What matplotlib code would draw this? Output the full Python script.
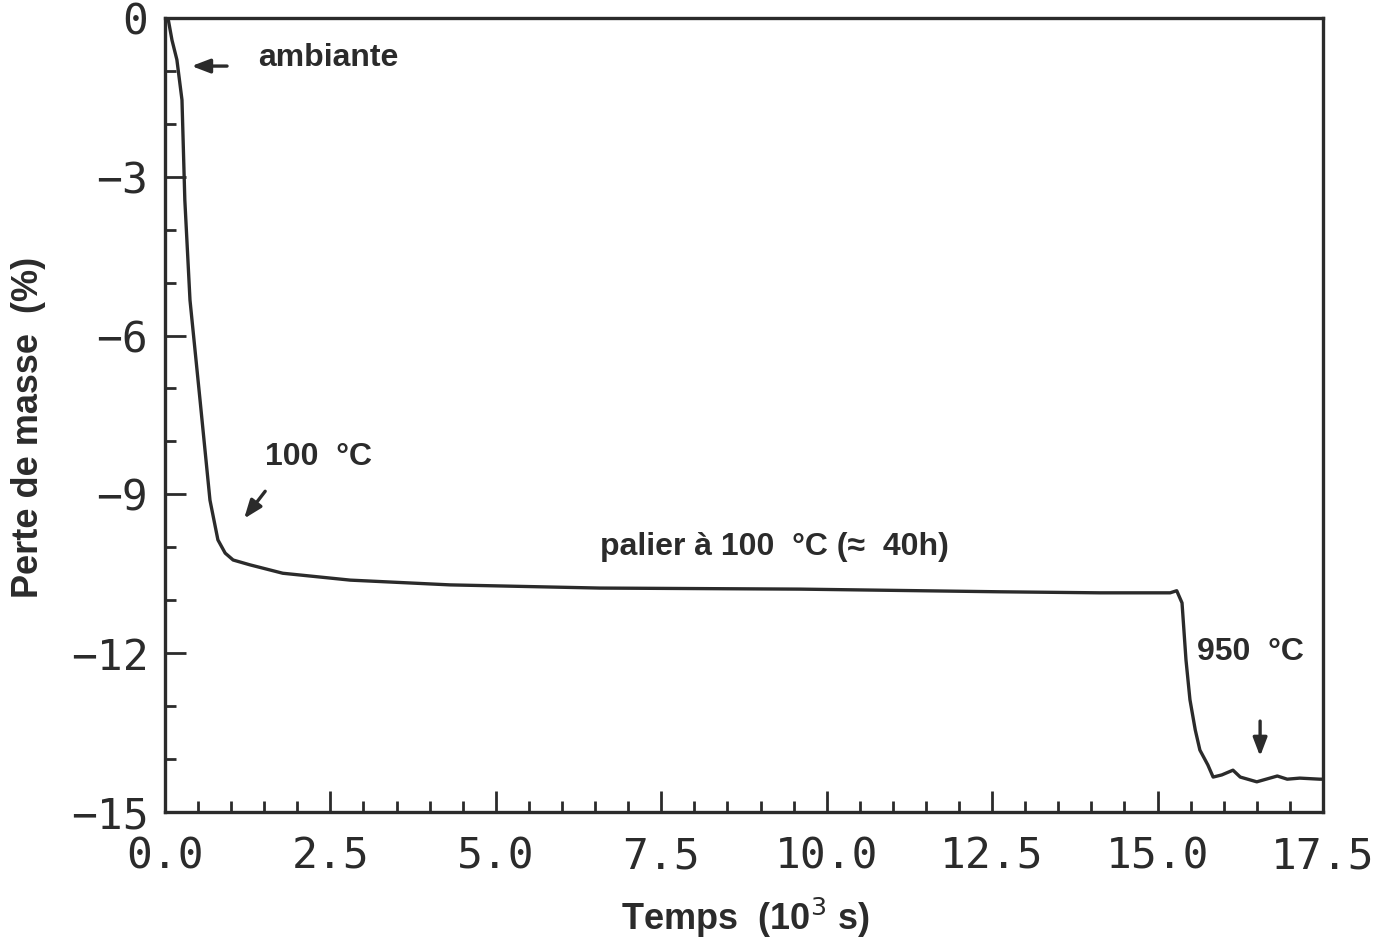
import numpy as np
import matplotlib.pyplot as plt
from matplotlib.ticker import MultipleLocator, FixedLocator

# courbe de perte de masse
temps = [0.045, 0.106, 0.18, 0.257, 0.30, 0.378, 0.53, 0.68, 0.80, 0.91, 1.03,
         1.28, 1.78, 2.80, 4.31, 6.57, 9.60, 12.60, 14.13, 15.19, 15.29, 15.37,
         15.43, 15.49, 15.57, 15.64, 15.76, 15.84, 15.97, 16.14, 16.25, 16.50,
         16.81, 16.96, 17.15, 17.45, 17.5]
perte = [0.0, -0.42, -0.79, -1.55, -3.44, -5.33, -7.22, -9.11, -9.86, -10.11, -10.24,
         -10.33, -10.49, -10.62, -10.71, -10.77, -10.79, -10.84, -10.86, -10.86, -10.82, -11.05,
         -12.13, -12.88, -13.45, -13.83, -14.11, -14.34, -14.30, -14.21, -14.34, -14.43,
         -14.32, -14.38, -14.36, -14.38, -14.38]

xticks = [0.0, 2.5, 5.0, 7.5, 10.0, 12.5, 15.0, 17.5]
yticks = [0, -3, -6, -9, -12, -15]

ink = '#2b2b2b'

fig = plt.figure(figsize=(13.84, 9.42), dpi=100)
ax = fig.add_axes([0.1192, 0.138, 0.8367, 0.843])

ax.plot(temps, perte, color=ink, lw=2.4)

ax.set_xlim(0, 17.5)
ax.set_ylim(-15, 0)

for s in ax.spines.values():
    s.set_linewidth(2.4)
    s.set_color(ink)

ax.xaxis.set_major_locator(FixedLocator(xticks))
ax.xaxis.set_minor_locator(MultipleLocator(0.5))
ax.yaxis.set_major_locator(FixedLocator(yticks))
ax.yaxis.set_minor_locator(MultipleLocator(1))
ax.set_xticklabels(['%.1f' % v for v in xticks])
ax.set_yticklabels(['\u2212%d' % -v if v else '0' for v in yticks])

ax.tick_params(which='both', direction='in', top=False, right=False, color=ink, width=2)
ax.tick_params(which='major', length=15)
ax.tick_params(which='minor', length=8)
ax.tick_params(axis='x', which='major', pad=17, labelsize=31, labelcolor=ink)
ax.tick_params(axis='y', which='major', pad=12, labelsize=31, labelcolor=ink)
for lab in ax.get_xticklabels() + ax.get_yticklabels():
    lab.set_family('DejaVu Sans Mono')

lf = dict(family='Liberation Sans', weight='bold', color=ink)
ax.set_xlabel('Temps  (10$^{3}$ s)', fontsize=26, va='center', **lf)
ax.xaxis.set_label_coords(0.501, -0.1335)
ax.set_ylabel('Perte de masse  (%)', fontsize=26, va='center', **lf)
ax.yaxis.set_label_coords(-0.118, 0.484)

af = dict(family='Liberation Sans', weight='bold', color=ink, fontsize=23)
arr = dict(arrowstyle='-|>,head_length=1.1,head_width=0.42', color=ink, lw=2.4)

ax.text(1.41, -0.76, 'ambiante', ha='left', va='center', **af)
ax.annotate('', xy=(0.36, -0.91), xytext=(0.98, -0.91), arrowprops=arr)

ax.text(1.51, -8.29, '100  °C', ha='left', va='center', **af)
ax.annotate('', xy=(1.17, -9.50), xytext=(1.54, -8.90), arrowprops=arr)

ax.text(6.57, -9.99, 'palier à 100  °C (≈  40h)', ha='left', va='center', **af)

ax.text(15.60, -11.98, '950  °C', ha='left', va='center', **af)
ax.annotate('', xy=(16.55, -14.0), xytext=(16.55, -13.23), arrowprops=arr)

fig.savefig('out.png', dpi=100)
